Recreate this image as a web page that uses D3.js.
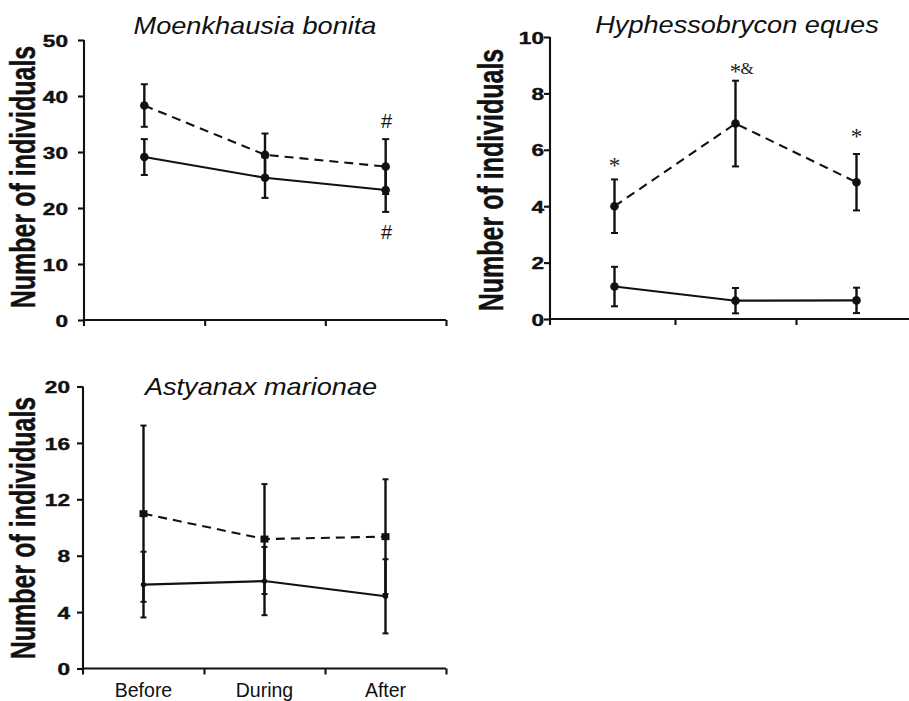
<!DOCTYPE html>
<html>
<head>
<meta charset="utf-8">
<script src="https://cdn.jsdelivr.net/npm/d3@7"></script>
<style>
  html, body { margin: 0; padding: 0; background: #fff; }
  svg { display: block; }
</style>
</head>
<body>
<svg id="chart" width="909" height="701"></svg>
<script>
// ---------------- data ----------------
const categories = ["Before", "During", "After"];

// Moenkhausia bonita
const mbTicks = [0, 10, 20, 30, 40, 50];
const mbSolid = [29.1, 25.4, 23.2];
const mbSolidErr = [3.2, 3.6, 3.9];
const mbDashed = [38.3, 29.5, 27.4];
const mbDashedErr = [3.8, 3.8, 4.9];

// Hyphessobrycon eques
const heTicks = [0, 2, 4, 6, 8, 10];
const heSolid = [1.15, 0.65, 0.66];
const heSolidErr = [0.7, 0.45, 0.45];
const heDashed = [4.0, 6.93, 4.85];
const heDashedErr = [0.95, 1.52, 1.0];

// Astyanax marionae
const amTicks = [0, 4, 8, 12, 16, 20];
const amSolid = [5.95, 6.2, 5.12];
const amSolidErr = [2.33, 2.42, 2.63];
const amDashed = [10.98, 9.18, 9.35];
const amDashedErr = [6.25, 3.9, 4.07];

// significance marks: [category, value (y position of mark centre), text]
const mbMarks = [["After", 35.5, "#"], ["After", 15.7, "#"]];
const heMarks = [["Before", 5.55, "*"], ["During", 8.9, "*&"], ["After", 6.6, "*"]];
const amMarks = [];

const yLabel = "Number of individuals";

// ---------------- layout ----------------
const panels = [
  { title: "Moenkhausia bonita", ticks: mbTicks, solid: mbSolid, solidErr: mbSolidErr,
    dashed: mbDashed, dashedErr: mbDashedErr, marks: mbMarks,
    axisX: 84, bandX0: 84, bandX1: 446, yTop: 40, yBottom: 320,
    tickRight: 68, labX: 35, labCY: 177, titleX: 255, titleY: 34,
    dashedShape: "circle", solidR: 4.3, capW: 3.5, catLabels: false },
  { title: "Hyphessobrycon eques", ticks: heTicks, solid: heSolid, solidErr: heSolidErr,
    dashed: heDashed, dashedErr: heDashedErr, marks: heMarks,
    axisX: 550, bandX0: 554, bandX1: 917, yTop: 37, yBottom: 319,
    tickRight: 544, labX: 503, labCY: 180, titleX: 737, titleY: 33,
    dashedShape: "circle", solidR: 4.3, capW: 3.5, catLabels: false },
  { title: "Astyanax marionae", ticks: amTicks, solid: amSolid, solidErr: amSolidErr,
    dashed: amDashed, dashedErr: amDashedErr, marks: amMarks,
    axisX: 83, bandX0: 83, bandX1: 446, yTop: 386.5, yBottom: 668.5,
    tickRight: 70, labX: 35, labCY: 528, titleX: 261, titleY: 395,
    dashedShape: "square", solidR: 2.7, capW: 3, catLabels: true }
];

const svg = d3.select("#chart");
const ink = "#111";
const SW = 2.1;

panels.forEach(p => {
  const g = svg.append("g");
  const yMax = d3.max(p.ticks);
  const y = d3.scaleLinear().domain([0, yMax]).range([p.yBottom, p.yTop]);
  const x = d3.scaleBand().domain(categories).range([p.bandX0, p.bandX1]).padding(0);
  const xc = c => x(c) + x.bandwidth() / 2;
  const xEdges = d3.scaleLinear().domain([0, categories.length]).range([p.bandX0, p.bandX1]);

  // y axis
  const ya = g.append("g").attr("transform", `translate(${p.axisX},0)`)
    .call(d3.axisLeft(y).tickValues(p.ticks).tickSize(6).tickSizeOuter(0));
  ya.select(".domain").remove();
  ya.selectAll(".tick line").attr("stroke", ink).attr("stroke-width", SW);
  ya.selectAll(".tick text")
    .attr("x", null).attr("dy", "0.36em")
    .attr("transform", `translate(${p.tickRight - p.axisX},0) scale(1.33,1)`)
    .attr("text-anchor", "end")
    .style("font-family", "'Liberation Sans', Arial, sans-serif")
    .style("font-size", "17px").style("font-weight", "bold").attr("fill", ink)
    .attr("stroke", ink).attr("stroke-width", 0.4);
  g.append("line")
    .attr("x1", p.axisX).attr("x2", p.axisX)
    .attr("y1", y(yMax)).attr("y2", y(0) + 6)
    .attr("stroke", ink).attr("stroke-width", SW);

  // x axis (tick marks at band boundaries)
  const xa = g.append("g").attr("transform", `translate(0,${y(0)})`)
    .call(d3.axisBottom(xEdges).tickValues(d3.range(1, categories.length + 1))
      .tickFormat("").tickSize(6).tickSizeOuter(0));
  xa.select(".domain").remove();
  xa.selectAll(".tick line").attr("stroke", ink).attr("stroke-width", SW);
  g.append("line")
    .attr("x1", p.axisX).attr("x2", p.bandX1)
    .attr("y1", y(0)).attr("y2", y(0))
    .attr("stroke", ink).attr("stroke-width", SW);

  if (p.catLabels) {
    g.selectAll(".cat").data(categories).enter().append("text")
      .attr("x", d => xc(d)).attr("y", 697)
      .attr("text-anchor", "middle")
      .style("font-family", "'Liberation Sans', Arial, sans-serif")
      .style("font-size", "19.5px").attr("fill", ink)
      .text(d => d);
  }

  // y label
  g.append("text")
    .attr("transform", `translate(${p.labX},${p.labCY}) scale(1.4,1) rotate(-90)`)
    .attr("text-anchor", "middle")
    .style("font-family", "'Liberation Sans', Arial, sans-serif")
    .style("font-size", "25px").style("font-weight", "bold").attr("fill", ink)
    .attr("stroke", ink).attr("stroke-width", 0.3)
    .text(yLabel);

  // title
  g.append("text")
    .attr("transform", `translate(${p.titleX},${p.titleY}) scale(1.18,1)`)
    .attr("text-anchor", "middle")
    .style("font-family", "'Liberation Sans', Arial, sans-serif")
    .style("font-size", "23px").style("font-style", "italic").attr("fill", ink)
    .text(p.title);

  const series = [
    { vals: p.dashed, errs: p.dashedErr, dash: "9,6", shape: p.dashedShape },
    { vals: p.solid, errs: p.solidErr, dash: null, shape: "circle" }
  ];

  series.forEach(s => {
    const pts = categories.map((c, i) => ({ c, v: s.vals[i], e: s.errs[i] }));
    // error bars
    const eb = g.append("g");
    pts.forEach(d => {
      const cx = xc(d.c);
      eb.append("line").attr("x1", cx).attr("x2", cx)
        .attr("y1", y(d.v + d.e)).attr("y2", y(d.v - d.e))
        .attr("stroke", ink).attr("stroke-width", 2.4);
      [d.v + d.e, d.v - d.e].forEach(v => {
        eb.append("line").attr("x1", cx - p.capW).attr("x2", cx + p.capW)
          .attr("y1", y(v)).attr("y2", y(v))
          .attr("stroke", ink).attr("stroke-width", 2);
      });
    });
    // line
    g.append("path").datum(pts)
      .attr("d", d3.line().x(d => xc(d.c)).y(d => y(d.v)))
      .attr("fill", "none").attr("stroke", ink).attr("stroke-width", 2.1)
      .attr("stroke-dasharray", s.dash);
    // markers
    if (s.shape === "square") {
      g.selectAll(null).data(pts).enter().append("rect")
        .attr("x", d => xc(d.c) - 4).attr("y", d => y(d.v) - 3.5)
        .attr("width", 8).attr("height", 7).attr("fill", ink);
    } else {
      const r = (s.dash && p.dashedShape === "circle") ? 4.3 : p.solidR;
      g.selectAll(null).data(pts).enter().append("circle")
        .attr("cx", d => xc(d.c)).attr("cy", d => y(d.v)).attr("r", r).attr("fill", ink);
    }
  });

  // significance marks
  p.marks.forEach(m => {
    const cx = xc(m[0]);
    const cy = y(m[1]);
    if (m[2] === "#") {
      g.append("text")
        .attr("x", cx + 1).attr("y", cy).attr("dy", "0.36em")
        .attr("text-anchor", "middle")
        .style("font-family", "'Liberation Sans', Arial, sans-serif")
        .style("font-size", "20px").attr("fill", ink)
        .text(m[2]);
    } else {
      const t = g.append("text")
        .attr("text-anchor", "middle")
        .attr("x", cx).attr("y", cy)
        .style("font-family", "'Liberation Serif', 'Times New Roman', serif")
        .attr("fill", "#222");
      m[2].split("").forEach(ch => {
        if (ch === "*") {
          t.append("tspan").attr("y", cy + 11).style("font-size", "23px").text(ch);
        } else {
          t.append("tspan").attr("y", cy + 6).style("font-size", "17px").text(ch);
        }
      });
    }
  });
});
</script>
</body>
</html>
